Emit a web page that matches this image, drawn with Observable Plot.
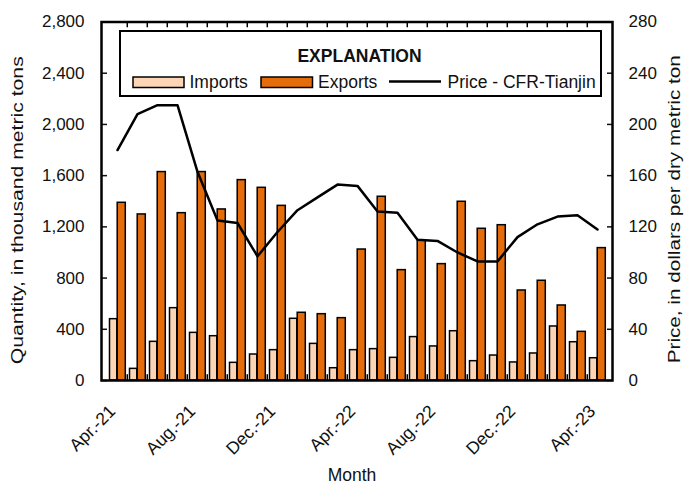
<!DOCTYPE html>
<html>
<head>
<meta charset="utf-8">
<script src="https://cdn.jsdelivr.net/npm/d3@7"></script>
<script src="https://cdn.jsdelivr.net/npm/@observablehq/plot@0.6"></script>
<style>
  html, body { margin: 0; padding: 0; background: #fff; }
  #chart { width: 699px; height: 485px; }
</style>
</head>
<body>
<div id="chart"></div>
<script>
const months = ["Apr.-21","May-21","June-21","July-21","Aug.-21","Sept.-21","Oct.-21","Nov.-21","Dec.-21",
  "Jan.-22","Feb.-22","Mar.-22","Apr.-22","May-22","June-22","July-22","Aug.-22","Sept.-22","Oct.-22","Nov.-22","Dec.-22",
  "Jan.-23","Feb.-23","Mar.-23","Apr.-23"];
const imports = [479, 91, 302, 565, 372, 346, 138, 203, 237, 482, 286, 96, 237, 245, 177, 339, 266, 385, 151, 195, 141, 211, 422, 299, 174];
const exports = [1388, 1297, 1628, 1307, 1628, 1336, 1565, 1505, 1364, 529, 518, 487, 1023, 1435, 862, 1094, 909, 1396, 1185, 1213, 703, 779, 586, 380, 1034];
const price = [180, 208, 215, 215, 163, 125, 123, 97, 116, 133, 143, 153, 152, 132, 131, 110, 109, 100, 93, 93, 112, 122, 128, 129, 118];
const shownMonths = ["Apr.-21","Aug.-21","Dec.-21","Apr.-22","Aug.-22","Dec.-22","Apr.-23"];
const leftTicks = [0, 400, 800, 1200, 1600, 2000, 2400, 2800];
const importColor = "#FCD5B5";
const exportColor = "#E46C0A";

const data = months.map((m, i) => ({month: m, imports: imports[i], exports: exports[i], price: price[i]}));

const W = 699, H = 485, mL = 101, mR = 87, mT = 21.5, mB = 105;
const bw = (W - mL - mR) / months.length;
const font = "'Liberation Sans', Arial, sans-serif";

const plot = Plot.plot({
  width: W, height: H,
  marginLeft: mL, marginRight: mR, marginTop: mT, marginBottom: mB,
  style: {fontFamily: font, fontSize: "17px", color: "#111", background: "#fff"},
  x: {type: "band", domain: months, padding: 0, axis: null},
  y: {domain: [0, 2800], axis: null},
  marks: [
    Plot.barY(data, {x: "month", y: "imports", fill: importColor, stroke: "black", strokeWidth: 1.5, insetLeft: 2.5, insetRight: 10.2}),
    Plot.barY(data, {x: "month", y: "exports", fill: exportColor, stroke: "black", strokeWidth: 1.5, insetLeft: 10.2, insetRight: 1.7}),
    Plot.ruleX(months.slice(1), {x: d => d, y1: 0, y2: 45, dx: -bw / 2, stroke: "black", strokeWidth: 1.5}),
    Plot.ruleX(months.slice(1), {x: d => d, y1: 2755, y2: 2800, dx: -bw / 2, stroke: "black", strokeWidth: 1.5}),
    Plot.lineY(data, {x: "month", y: d => d.price * 10, stroke: "black", strokeWidth: 2.5}),
    Plot.axisY({anchor: "left", ticks: leftTicks, tickSize: -6, tickPadding: 23, strokeWidth: 1.5, label: null, tickFormat: d3.format(",")}),
    Plot.axisY({anchor: "right", ticks: leftTicks, tickSize: -6, tickPadding: 22, strokeWidth: 1.5, label: null, tickFormat: d => String(d / 10)}),
    Plot.text(shownMonths, {x: d => d, frameAnchor: "bottom", rotate: -45, textAnchor: "end", lineAnchor: "middle", dx: -5, dy: 28, fontSize: 17.5}),
    Plot.frame({stroke: "black", strokeWidth: 2.5}),
    Plot.text(["Quantity, in thousand metric tons"], {frameAnchor: "left", rotate: -90, dx: -79, dy: 9, textAnchor: "middle", lineAnchor: "bottom", fontSize: 16, className: "vtitle"}),
    Plot.text(["Price, in dollars per dry metric ton"], {frameAnchor: "right", rotate: -90, dx: 67, dy: 8, textAnchor: "middle", lineAnchor: "bottom", fontSize: 16, className: "vtitle"}),
    Plot.text(["Month"], {frameAnchor: "bottom", dx: -5, dy: 100, lineAnchor: "bottom", fontSize: 17.5})
  ]
});

document.getElementById("chart").appendChild(plot);

// stretch vertical titles to the reference length
d3.select(plot).selectAll("g.vtitle text").attr("textLength", 308).attr("lengthAdjust", "spacingAndGlyphs");

// legend inside the plot frame
const svg = d3.select(plot);
const lg = svg.append("g").attr("font-family", font).attr("fill", "#111").attr("text-anchor", "start");
lg.append("rect").attr("x", 120).attr("y", 31).attr("width", 481).attr("height", 65)
  .attr("fill", "white").attr("stroke", "black").attr("stroke-width", 2);
lg.append("text").attr("x", 359.5).attr("y", 61.5).attr("text-anchor", "middle")
  .attr("font-weight", "bold").attr("font-size", 17.5).text("EXPLANATION");
lg.append("rect").attr("x", 133).attr("y", 77).attr("width", 51).attr("height", 10.5)
  .attr("fill", importColor).attr("stroke", "black").attr("stroke-width", 1.5);
lg.append("text").attr("x", 189.5).attr("y", 87.5).attr("text-anchor", "start").attr("font-size", 17.5).text("Imports");
lg.append("rect").attr("x", 261).attr("y", 77).attr("width", 51.5).attr("height", 10.5)
  .attr("fill", exportColor).attr("stroke", "black").attr("stroke-width", 1.5);
lg.append("text").attr("x", 318).attr("y", 87.5).attr("text-anchor", "start").attr("font-size", 17.5).text("Exports");
lg.append("line").attr("x1", 389).attr("x2", 441).attr("y1", 81.5).attr("y2", 81.5)
  .attr("stroke", "black").attr("stroke-width", 2.5);
lg.append("text").attr("x", 447.5).attr("y", 87.5).attr("text-anchor", "start").attr("font-size", 17.5).text("Price - CFR-Tianjin");
</script>
</body>
</html>
